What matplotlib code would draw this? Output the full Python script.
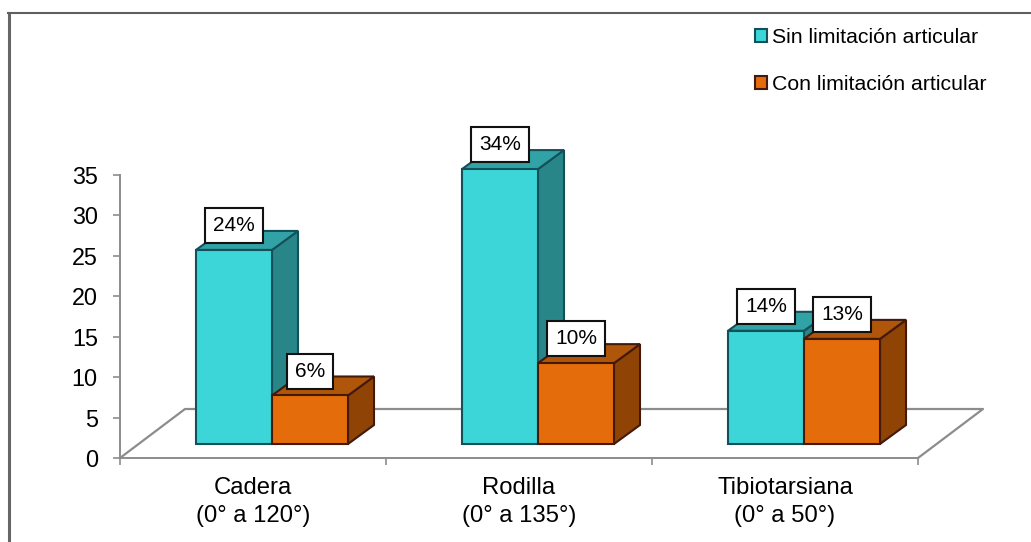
import matplotlib
matplotlib.use("Agg")
from matplotlib import pyplot as plt
from matplotlib.lines import Line2D
from matplotlib.patches import Patch, Polygon

plt.rcParams['font.family'] = ['Liberation Sans', 'DejaVu Sans']

categories = ['Cadera\n(0° a 120°)', 'Rodilla\n(0° a 135°)', 'Tibiotarsiana\n(0° a 50°)']
sin_limitacion = [24, 34, 14]
con_limitacion = [6, 10, 13]
y_ticks = [0, 5, 10, 15, 20, 25, 30, 35]

W, H = 1031, 542
fig = plt.figure(figsize=(W / 100, H / 100), dpi=100)

# plot area in pixels: x 120-918, y 175-458
ax = fig.add_axes([120 / W, 1 - 458 / H, 798 / W, 283 / H])
ax.set_xlim(0, 3)
ax.set_ylim(0, 35)
ax.patch.set_alpha(0)

px_x = 3 / 798
px_y = 35 / 283

grey = '#8c8c8c'
for side in ['top', 'right']:
    ax.spines[side].set_visible(False)
for side in ['left', 'bottom']:
    ax.spines[side].set_color(grey)
    ax.spines[side].set_linewidth(1.4)

ax.set_yticks(y_ticks)
ax.set_xticks([0, 1, 2, 3])
ax.set_xticklabels([])
ax.set_xticks([0.5, 1.5, 2.5], minor=True)
ax.set_xticklabels(categories, minor=True, fontsize=17.2, linespacing=1.3)
ax.tick_params(axis='y', length=5, width=1.2, color=grey, pad=11, labelsize=16.8)
ax.tick_params(axis='x', which='major', length=5, width=1.2, color=grey, direction='out')
ax.tick_params(axis='x', which='minor', length=0, pad=14)

# floor of the 3d box
floor_dx = 65 * px_x
floor_dy = 49 * px_y
ax.add_line(Line2D([0, floor_dx, 3 + floor_dx, 3],
                   [0, floor_dy, floor_dy, 0],
                   color=grey, lw=1.6, clip_on=False, zorder=1))

bar_w = 76 * px_x
depth_x = 26 * px_x
depth_y = 19 * px_y
base = 14 * px_y
shift = 19 * px_x

teal = ('#3cd6d8', '#31a3a6', '#288689', '#14505a')
orange = ('#e46c0a', '#b0560a', '#8f4406', '#43190a')


def draw_bar(x, value, colors, z):
    front, top_c, side_c, edge = colors
    bottom = base
    top = base + value
    left, right = x, x + bar_w
    ax.add_patch(Polygon([(right, bottom), (right + depth_x, bottom + depth_y),
                          (right + depth_x, top + depth_y), (right, top)],
                         facecolor=side_c, edgecolor=edge, lw=1.5, clip_on=False, zorder=z))
    ax.add_patch(Polygon([(left, top), (left + depth_x, top + depth_y),
                          (right + depth_x, top + depth_y), (right, top)],
                         facecolor=top_c, edgecolor=edge, lw=1.5, clip_on=False, zorder=z))
    ax.add_patch(Polygon([(left, bottom), (right, bottom), (right, top), (left, top)],
                         facecolor=front, edgecolor=edge, lw=1.5, clip_on=False, zorder=z + 0.1))


def draw_label(x, value):
    # white tag sitting over the front edge of the bar top
    ax.annotate('%d%%' % value, xy=(x + bar_w / 2, base + value), xytext=(0, 17.5),
                textcoords='offset points', ha='center', va='center', fontsize=15,
                bbox=dict(boxstyle='square,pad=0.38', facecolor='white', edgecolor='#111111', lw=1.5),
                annotation_clip=False, zorder=10)


for i in range(len(categories)):
    x_center = i + 0.5 + shift
    draw_bar(x_center - bar_w, sin_limitacion[i], teal, 3)
    draw_bar(x_center, con_limitacion[i], orange, 4)

for i in range(len(categories)):
    x_center = i + 0.5 + shift
    draw_label(x_center - bar_w, sin_limitacion[i])
    draw_label(x_center, con_limitacion[i])

handles = [Patch(facecolor=teal[0], edgecolor=teal[3], lw=1.5),
           Patch(facecolor=orange[0], edgecolor=orange[3], lw=1.5)]
fig.legend(handles, ['Sin limitación articular', 'Con limitación articular'],
           loc='upper left', bbox_to_anchor=(755 / W, 1 - 28 / H), frameon=False,
           fontsize=15.3, handlelength=0.55, handleheight=0.55, handletextpad=0.26,
           labelspacing=1.32, borderpad=0, borderaxespad=0)

# outer frame, only top and left edges
fig.add_artist(Line2D([8.5 / W, 8.5 / W], [0, 1 - 13 / H], color='#666666', lw=2.2,
                      transform=fig.transFigure))
fig.add_artist(Line2D([7.5 / W, 1], [1 - 13 / H, 1 - 13 / H], color='#5f5f5f', lw=1.5,
                      transform=fig.transFigure))

fig.savefig('out.png', dpi=100)
